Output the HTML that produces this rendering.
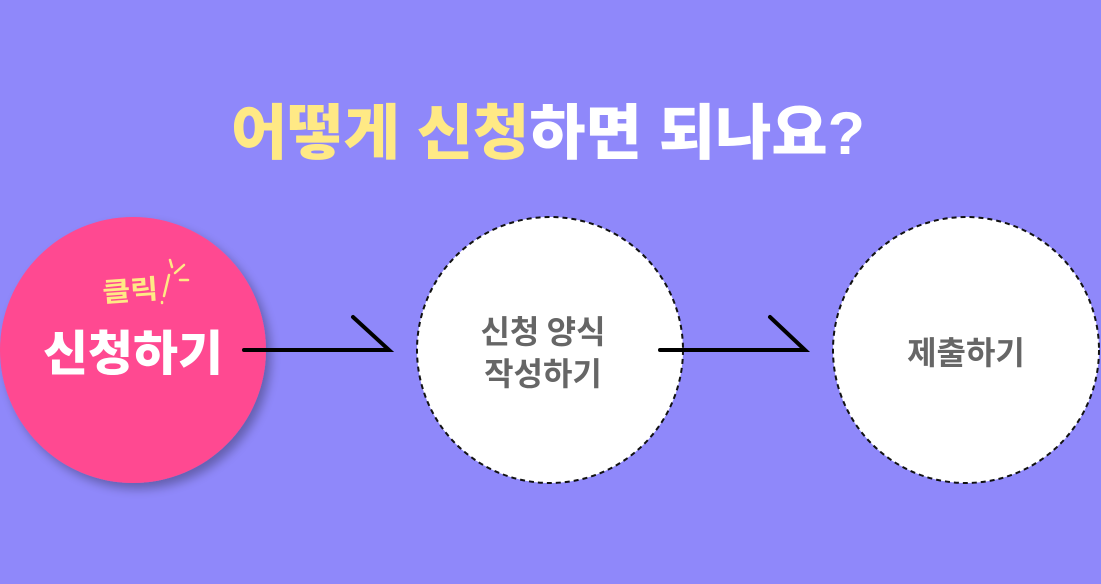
<!DOCTYPE html>
<html><head><meta charset="utf-8"><style>
html,body{margin:0;padding:0;width:1101px;height:584px;overflow:hidden;background:#8f88fa;}
svg{display:block}
</style></head><body>
<svg width="1101" height="584" viewBox="0 0 1101 584" xmlns="http://www.w3.org/2000/svg">
<defs>
<filter id="sh" x="-20%" y="-20%" width="140%" height="140%">
<feGaussianBlur in="SourceAlpha" stdDeviation="5"/>
<feOffset dx="5" dy="6"/>
<feComponentTransfer><feFuncA type="linear" slope="0.3"/></feComponentTransfer>
<feMerge><feMergeNode/><feMergeNode in="SourceGraphic"/></feMerge>
</filter>
</defs>
<rect width="1101" height="584" fill="#8f88fa"/>
<text x="548" y="154" text-anchor="middle" font-family="'Liberation Sans','Noto Sans CJK KR',sans-serif" font-weight="900" font-size="60" fill="#fff" textLength="634" lengthAdjust="spacingAndGlyphs"><tspan fill="#ffe985">어떻게 신청</tspan>하면 되나요?</text>

<circle cx="133" cy="350" r="133" fill="#ff4891" filter="url(#sh)"/>
<text x="103" y="302" font-family="'Noto Sans CJK KR',sans-serif" font-weight="700" font-size="27" fill="#ffe985" transform="rotate(-4 103 302)" textLength="56" lengthAdjust="spacingAndGlyphs">클릭</text>
<g stroke="#ffe985" stroke-width="2.5" stroke-linecap="round">
<line x1="169" y1="275" x2="164" y2="296"/>
<line x1="162" y1="302" x2="162" y2="303"/>
<line x1="170" y1="260" x2="172" y2="267"/>
<line x1="175" y1="273" x2="184" y2="265"/>
<line x1="180" y1="280" x2="188" y2="280"/>
</g>
<text x="133" y="370" text-anchor="middle" font-family="'Noto Sans CJK KR',sans-serif" font-weight="900" font-size="48" fill="#fff" textLength="180" lengthAdjust="spacingAndGlyphs">신청하기</text>

<circle cx="550" cy="350" r="133" fill="#fff" stroke="#111" stroke-width="2" stroke-dasharray="5,4"/>
<circle cx="966" cy="350" r="133" fill="#fff" stroke="#111" stroke-width="2" stroke-dasharray="5,4"/>

<g stroke="#000" stroke-width="4" stroke-linecap="round" fill="none">
<polyline points="244,350 389,350 353,317"/>
<polyline points="660,350 805,350 770,317"/>
</g>

<g font-family="'Noto Sans CJK KR',sans-serif" font-weight="700" font-size="32" fill="#666" text-anchor="middle">
<text x="543" y="343">신청 양식</text>
<text x="543" y="385">작성하기</text>
<text x="966" y="364">제출하기</text>
</g>
</svg>
</body></html>
